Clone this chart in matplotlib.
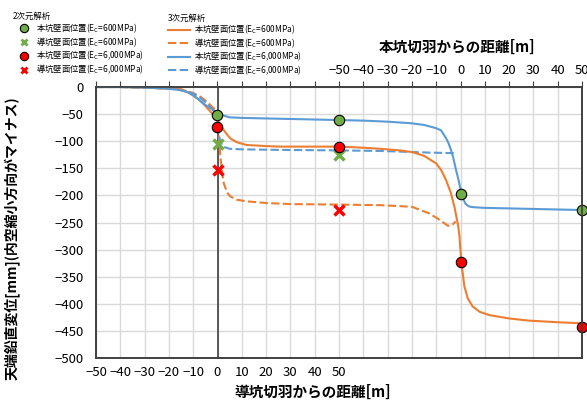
import matplotlib.pyplot as plt
from matplotlib.lines import Line2D
from matplotlib.ticker import MultipleLocator, FuncFormatter

plt.rcParams['font.family'] = ['Noto Sans CJK JP', 'DejaVu Sans']
plt.rcParams['mathtext.default'] = 'regular'

# 3次元解析 — 本坑 (top axis: distance from main tunnel face)
x_hon = [-150, -140, -130, -125, -120, -115, -112, -110, -108, -106, -104, -102, -100,
         -98, -96, -94.7, -92, -88, -80, -74, -60, -50, -40, -33, -25, -20, -15, -10,
         -8, -6, -4, -2.5, -1, -0.4, 0.3, 1.6, 3, 5, 8, 12, 20, 28, 40, 50]
hon_600 = [0, 0, -1, -2, -3, -4, -10, -16, -22, -30, -40, -50, -60,
           -76, -88, -95, -102, -107, -109, -110, -110, -110, -112, -114, -117, -120, -127, -141,
           -153, -171, -195, -221, -255, -276, -322, -368, -390, -405, -415, -421, -427, -431, -434, -436]
x_hon_b = [-150, -140, -130, -125, -120, -115, -112, -110, -108, -106, -104, -102, -100,
           -98, -95, -90, -80, -70, -60, -50, -40, -30, -20, -15, -10, -8, -6, -5, -4, -3,
           -2, -1, 0, 1, 2, 3, 4, 6, 10, 20, 30, 40, 50]
hon_6000 = [0, 0, -1, -2, -3, -6, -10, -15, -22, -30, -36, -42, -48,
            -52, -56, -57, -58, -59, -60, -61, -62, -64, -67, -70, -76, -80, -94, -103, -115, -130,
            -150, -168, -188, -205, -215, -219, -221, -222, -223, -224, -225, -226, -227]

# 3次元解析 — 導坑 (bottom axis: distance from pilot tunnel face)
x_dou_a = [-50, -40, -30, -25, -20, -15, -10, -7, -5, -3, -1, 0, 0.5, 1.2, 2, 2.6, 4, 5.3,
           8, 12, 20, 30, 50, 67, 80, 87, 91.4, 94.8, 96.5, 98]
dou_600 = [0, 0, -1, -2, -3, -5, -11, -18, -25, -33, -42, -50, -90, -129, -160, -178, -195, -202,
           -208, -211, -214, -216, -217, -218, -221, -233, -245, -256, -255, -248]
x_dou_b = [-50, -40, -30, -25, -20, -15, -10, -7, -5, -3, -1, 0, 0.5, 1, 2, 3, 5, 10, 25, 50,
           67, 87, 97, 98.5]
dou_6000 = [0, 0, -1, -2, -3, -6, -12, -20, -28, -37, -47, -60, -86, -98, -108, -111, -114, -115,
            -116, -117, -118, -121, -122, -125]

# 2次元解析
x_2d_hon = [-100, -50, 0, 50]
hon_2d_600 = [-52, -61, -197, -227]
hon_2d_6000 = [-74, -110, -322, -443]
x_2d_dou = [0, 50]
dou_2d_600 = [-105, -125]
dou_2d_6000 = [-153, -227]

ORANGE = '#ED7D31'
BLUE = '#5B9BD5'
GREEN = '#70AD47'
RED = '#FF0000'
DARK = '#404040'
DASH = (4, 1.6)

fig = plt.figure(figsize=(5.87, 4.0), dpi=100)
ax = fig.add_axes([96/587, 1-358/400, 486/587, 271/400])
ax.set_xlim(-50, 150)
ax.set_ylim(-500, 0)
ax.xaxis.set_major_locator(MultipleLocator(10))
ax.yaxis.set_major_locator(MultipleLocator(50))
ax.grid(True, color='#d9d9d9', lw=1)
ax.set_axisbelow(True)
ax.axvline(0, color=DARK, lw=1.2, zorder=1)

def lab(v, pos):
    if -50 <= v <= 50:
        return '%d' % v if v >= 0 else '\u2212%d' % -v
    return ''

ax.xaxis.set_major_formatter(FuncFormatter(lab))
ax.yaxis.set_major_formatter(FuncFormatter(lambda v, p: '%d' % v if v >= 0 else '\u2212%d' % -v))
ax.tick_params(axis='x', length=0, pad=6, labelsize=9.5)
ax.tick_params(axis='y', length=0, pad=9, labelsize=9.5)

ax.plot(x_dou_a, dou_600, color=ORANGE, lw=1.5, dashes=DASH)
ax.plot(x_dou_b, dou_6000, color=BLUE, lw=1.5, dashes=DASH)
ax.plot(x_2d_dou, dou_2d_600, 'x', color=GREEN, ms=7, mew=2.5)
ax.plot(x_2d_dou, dou_2d_6000, 'x', color=RED, ms=7, mew=2.5)

ax2 = ax.twiny()
ax2.set_xlim(-150, 50)
ax2.xaxis.set_major_locator(MultipleLocator(10))
ax2.xaxis.set_major_formatter(FuncFormatter(lab))
ax2.tick_params(axis='x', length=4, color=DARK, pad=3, labelsize=9.5)
ax2.plot(x_hon, hon_600, color=ORANGE, lw=1.5)
ax2.plot(x_hon_b, hon_6000, color=BLUE, lw=1.5)
ax2.plot(x_2d_hon, hon_2d_600, 'o', mfc=GREEN, mec='black', ms=7.5, mew=0.8, clip_on=False)
ax2.plot(x_2d_hon, hon_2d_6000, 'o', mfc=RED, mec='black', ms=7.5, mew=0.8, clip_on=False)

for a in (ax, ax2):
    for s in a.spines.values():
        s.set_color(DARK)
        s.set_linewidth(1.2)

fig.text(457/587, 1-47/400, '本坑切羽からの距離[m]', ha='center', va='center',
         fontsize=10.5, fontweight='bold')
fig.text(313/587, 1-392/400, '導坑切羽からの距離[m]', ha='center', va='center',
         fontsize=10.5, fontweight='bold')
fig.text(12/587, 1-238/400, '天端鉛直変位[mm](内空縮小方向がマイナス)', ha='center', va='center',
         rotation=90, fontsize=10, fontweight='bold')

h1 = [Line2D([], [], ls='none', marker='o', mfc=GREEN, mec='black', ms=6, mew=0.8),
      Line2D([], [], ls='none', marker='x', color=GREEN, ms=5, mew=2),
      Line2D([], [], ls='none', marker='o', mfc=RED, mec='black', ms=6, mew=0.8),
      Line2D([], [], ls='none', marker='x', color=RED, ms=5, mew=2)]
l1 = ['本坑壁面位置(E$_C$=600MPa)', '導坑壁面位置(E$_C$=600MPa)',
      '本坑壁面位置(E$_C$=6,000MPa)', '導坑壁面位置(E$_C$=6,000MPa)']
fig.legend(h1, l1, loc='upper left', bbox_to_anchor=(7/587, 1-6/400), frameon=False,
           title='2次元解析', title_fontsize=6, fontsize=6, alignment='left',
           handlelength=2.6, handletextpad=0.15, labelspacing=0.04, borderpad=0.2)

h2 = [Line2D([], [], color=ORANGE, lw=1.5),
      Line2D([], [], color=ORANGE, lw=1.5, dashes=DASH),
      Line2D([], [], color=BLUE, lw=1.5),
      Line2D([], [], color=BLUE, lw=1.5, dashes=DASH)]
fig.legend(h2, l1, loc='upper left', bbox_to_anchor=(162/587, 1-8/400), frameon=False,
           title='3次元解析', title_fontsize=6, fontsize=6, alignment='left',
           handlelength=2.65, handletextpad=0.55, labelspacing=0.0, borderpad=0.2)

fig.savefig('out.png', dpi=100)
